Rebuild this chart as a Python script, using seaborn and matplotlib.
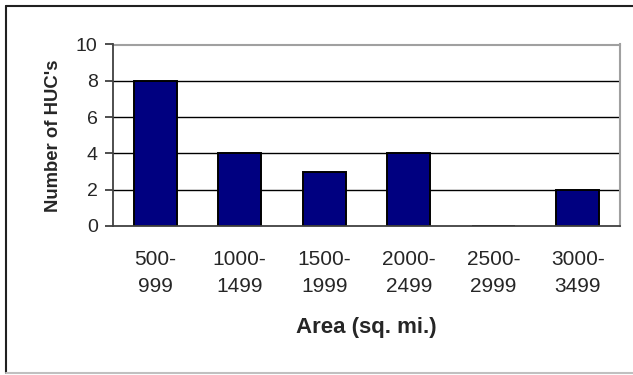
import matplotlib
matplotlib.use("Agg")
import matplotlib.pyplot as plt
from matplotlib.lines import Line2D
import seaborn as sns
import pandas as pd

categories = ["500-\n999", "1000-\n1499", "1500-\n1999", "2000-\n2499", "2500-\n2999", "3000-\n3499"]
counts = [8, 4, 3, 4, 0, 2]
y_ticks = [0, 2, 4, 6, 8, 10]

sns.set_style("white")
plt.rcParams["font.family"] = ["Liberation Sans", "DejaVu Sans"]

df = pd.DataFrame({"Area": categories, "Count": counts})

fig = plt.figure(figsize=(6.33, 3.75), dpi=100)
ax = fig.add_axes([113 / 633, 1 - 226 / 375, (620 - 113) / 633, (226 - 44.5) / 375])

sns.barplot(data=df, x="Area", y="Count", ax=ax, color="#000080", saturation=1,
            width=0.51, edgecolor="black", linewidth=1.4, zorder=3)

ax.set_ylim(0, 10)
ax.set_yticks(y_ticks)
ax.set_xlim(-0.5, len(categories) - 0.5)
for v in y_ticks[1:-1]:
    ax.axhline(v, color="black", linewidth=1.0, zorder=1)

# spines: grey frame top/right, dark axes left/bottom
for side in ["top", "right"]:
    ax.spines[side].set_visible(True)
    ax.spines[side].set_color("#a0a0a0")
    ax.spines[side].set_linewidth(1.5)
for side in ["left", "bottom"]:
    ax.spines[side].set_visible(True)
    ax.spines[side].set_color("#404040")
    ax.spines[side].set_linewidth(1.3)
    ax.spines[side].set_zorder(4)

# category labels in the middle, tick marks on the boundaries
ax.set_xticks(range(len(categories)))
ax.set_xticklabels(categories, fontsize=15, linespacing=1.55)
ax.tick_params(axis="x", which="major", length=0, pad=17)
ax.set_xticks([i + 0.5 for i in range(-1, len(categories))], minor=True)
ax.tick_params(axis="x", which="minor", length=6, width=1.3, color="#404040", direction="out")
ax.tick_params(axis="y", length=6, width=1.3, color="#404040", direction="out",
               labelsize=14, pad=5, left=True)

ax.set_xlabel("Area (sq. mi.)", fontsize=16, fontweight="bold", labelpad=15)
ax.set_ylabel("Number of HUC's", fontsize=13.3, fontweight="bold", labelpad=10)

# outer chart border
fig.add_artist(Line2D([5.5 / 633, 5.5 / 633], [1 - 5.5 / 375, 1 - 373 / 375],
                      transform=fig.transFigure, color="#202020", linewidth=1.5))
fig.add_artist(Line2D([5.5 / 633, 1.0], [1 - 5.5 / 375, 1 - 5.5 / 375],
                      transform=fig.transFigure, color="#202020", linewidth=1.5))
fig.add_artist(Line2D([5.5 / 633, 1.0], [1 - 373 / 375, 1 - 373 / 375],
                      transform=fig.transFigure, color="#c0c0c0", linewidth=1.5))

fig.savefig("out.png", dpi=100)
